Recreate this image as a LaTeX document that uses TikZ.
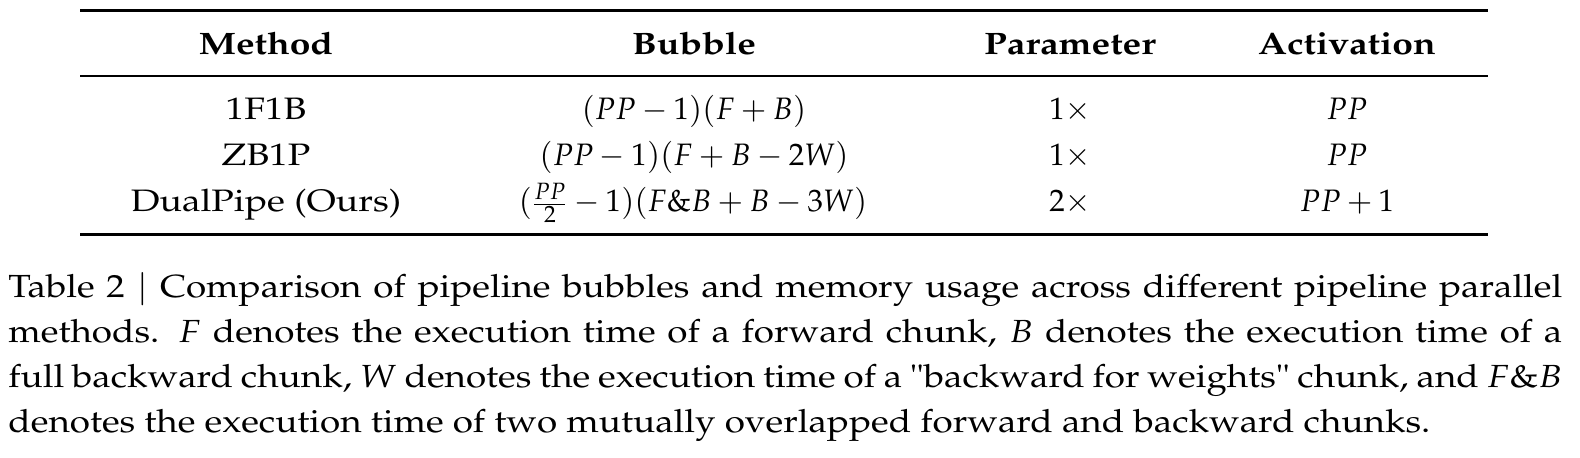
\documentclass[tikz,border=0pt]{standalone}
\usepackage[T1]{fontenc}
\usepackage{mathpazo}
\usepackage{amsmath}
\usepackage{graphicx}
\usepackage{tikz}
\usetikzlibrary{positioning}

\newcommand{\wide}[1]{\scalebox{1.2}[1]{#1}}
\newcommand{\capwide}[1]{\scalebox{1.15}[1]{#1}}

\begin{document}
\begin{tikzpicture}[x=0.5pt, y=-0.5pt,
    cell/.style={anchor=base, inner sep=0pt, font=\fontsize{15.5}{18}\selectfont},
    head/.style={cell, font=\fontsize{15.5}{18}\selectfont\bfseries},
    toprule/.style={line width=1.5pt},
    midrule/.style={line width=1pt}
]
    \useasboundingbox (0,0) rectangle (1580,458);

    % Rules of the table
    \draw[toprule] (80,10.5) -- (1488,10.5);
    \draw[midrule] (80,76) -- (1488,76);
    \draw[toprule] (80,234.5) -- (1488,234.5);

    % Header
    \node[head] (hmethod) at (266,55) {\wide{Method}};
    \node[head] (hbubble) at (694,55) {\wide{Bubble}};
    \node[head] (hparam) at (1070,55) {\wide{Parameter}};
    \node[head] (hact) at (1347,55) {\wide{Activation}};

    % 1F1B
    \node[cell] (m1) at (266,120) {\wide{1F1B}};
    \node[cell] (b1) at (694,120) {$(PP-1)(F+B)$};
    \node[cell] (p1) at (1070,120) {1$\times$};
    \node[cell] (a1) at (1347,120) {$PP$};

    % ZB1P
    \node[cell] (m2) at (266,166) {\wide{ZB1P}};
    \node[cell] (b2) at (694,166) {$(PP-1)(F+B-2W)$};
    \node[cell] (p2) at (1070,166) {1$\times$};
    \node[cell] (a2) at (1347,166) {$PP$};

    % DualPipe
    \node[cell] (m3) at (266,212) {\wide{DualPipe (Ours)}};
    \node[cell] (b3) at (693,212) {$(\tfrac{PP}{2}-1)(F\&B+B-3W)$};
    \node[cell] (p3) at (1070,212) {2$\times$};
    \node[cell] (a3) at (1347,212) {$PP+1$};

    % Caption
    \node[anchor=base west, inner sep=0pt] (caption) at (8,298)
    {\capwide{\parbox[t]{675.6pt}{\fontsize{16}{22.5}\selectfont\hyphenpenalty=10000
     Table 2 $\vert$ Comparison of pipeline bubbles and memory usage across different pipeline parallel\linebreak
     methods. $F$ denotes the execution time of a forward chunk, $B$ denotes the execution time of a\linebreak
     full backward chunk, $W$ denotes the execution time of a \textquotedbl backward for weights\textquotedbl{} chunk, and $F\&B$\linebreak
     denotes the execution time of two mutually overlapped forward and backward chunks.}}};

\end{tikzpicture}
\end{document}
